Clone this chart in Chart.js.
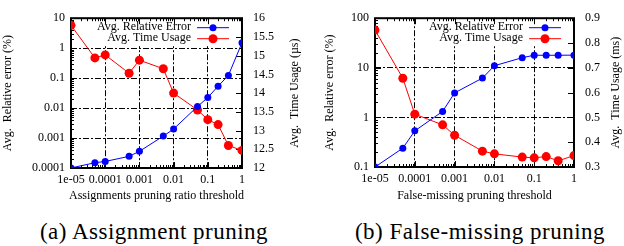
<!DOCTYPE html>
<html>
<head>
<meta charset="utf-8">
<script src="https://cdn.jsdelivr.net/npm/chart.js@4.4.1/dist/chart.umd.min.js"></script>
<style>
  body { margin: 0; background: #fff; width: 624px; height: 246px; position: relative; overflow: hidden; font-family: "Liberation Serif", "DejaVu Serif", serif; }
  canvas { position: absolute; top: 0; }
  .cap { position: absolute; top: 221px; font-size: 23px; line-height: 22px; letter-spacing: 0.5px; white-space: nowrap; text-align: center; width: 300px; }
</style>
</head>
<body>
<canvas id="chartA" width="312" height="205" style="left:0"></canvas>
<canvas id="chartB" width="312" height="205" style="left:312px"></canvas>
<div class="cap" style="left:4px">(a) Assignment pruning</div>
<div class="cap" style="left:330px">(b) False-missing pruning</div>
<script>
// thresholds on the x axis (same for both panels)
const thresholds = [1e-5, 5e-5, 1e-4, 5e-4, 1e-3, 5e-3, 1e-2, 5e-2, 0.1, 0.2, 0.4, 1];
const xTickValues = [1e-5, 1e-4, 1e-3, 1e-2, 0.1, 1];
const xTickLabels = ['1e-05', '0.0001', '0.001', '0.01', '0.1', '1'];

// (a) assignment pruning
const errorA = [0.0001, 0.00015, 0.000165, 0.000245, 0.00036, 0.00116, 0.002, 0.0113, 0.0225, 0.054, 0.123, 1.52];
const timeA = [15.81, 14.94, 15.02, 14.53, 14.88, 14.65, 14.0, 13.55, 13.29, 13.16, 12.6, 12.47];
const errTicksA = [0.0001, 0.001, 0.01, 0.1, 1, 10];
const errLabelsA = ['0.0001', '0.001', '0.01', '0.1', '1', '10'];
const timeTicksA = [12, 12.5, 13, 13.5, 14, 14.5, 15, 15.5, 16];

// (b) false-missing pruning
const errorB = [0.1, 0.24, 0.535, 1.32, 3.12, 6.2, 11, 16, 17.9, 17.9, 17.9, 18];
const timeB = [0.852, 0.658, 0.513, 0.47, 0.428, 0.364, 0.353, 0.34, 0.337, 0.342, 0.325, 0.346];
const errTicksB = [0.1, 1, 10, 100];
const errLabelsB = ['0.1', '1', '10', '100'];
const timeTicksB = [0.3, 0.4, 0.5, 0.6, 0.7, 0.8, 0.9];

const FONT = '"Liberation Serif", "DejaVu Serif", serif';
const BLUE = '#0000ff';
const RED = '#ff0000';

function logTicks(min, max) {
  const ticks = [];
  for (let e = Math.round(Math.log10(min)); e <= Math.round(Math.log10(max)); e++) {
    for (let m = 1; m < 10; m++) {
      const v = m * Math.pow(10, e);
      if (v > max * 1.0001) break;
      ticks.push({ value: v, major: m === 1 });
    }
  }
  return ticks;
}

function labelFor(values, labels, v) {
  const i = values.findIndex(t => Math.abs(Math.log10(t) - Math.log10(v)) < 1e-6);
  return i < 0 ? '' : labels[i];
}

// gnuplot-ish frame, inside ticks, key and axis titles
const gnuplotLook = {
  id: 'gnuplotLook',
  beforeDatasetsDraw(chart, args, opts) {
    const { ctx, chartArea: a } = chart;
    ctx.save();
    // opaque key box
    ctx.font = '12px ' + FONT;
    const w = Math.max(...opts.keys.map(k => ctx.measureText(k.label).width));
    ctx.fillStyle = '#fff';
    ctx.fillRect(a.right - 51 - w - 4, a.top + 1, w + 54, 27);
    // inside ticks
    ctx.strokeStyle = '#000';
    ctx.lineWidth = 1;
    ctx.beginPath();
    chart.scales.x.ticks.forEach(t => {
      const px = Math.round(chart.scales.x.getPixelForValue(t.value)) + 0.5;
      const len = t.major ? 6 : 3;
      ctx.moveTo(px, a.bottom); ctx.lineTo(px, a.bottom - len);
      ctx.moveTo(px, a.top); ctx.lineTo(px, a.top + len);
    });
    chart.scales.y.ticks.forEach(t => {
      const py = Math.round(chart.scales.y.getPixelForValue(t.value)) + 0.5;
      const len = t.major ? 6 : 3;
      ctx.moveTo(a.left, py); ctx.lineTo(a.left + len, py);
    });
    chart.scales.y2.ticks.forEach(t => {
      const py = Math.round(chart.scales.y2.getPixelForValue(t.value)) + 0.5;
      ctx.moveTo(a.right, py); ctx.lineTo(a.right - 6, py);
    });
    ctx.stroke();
    // frame
    ctx.lineWidth = 2;
    ctx.strokeRect(a.left, a.top, a.right - a.left, a.bottom - a.top);
    ctx.restore();
  },
  afterDatasetsDraw(chart, args, opts) {
    const { ctx, chartArea: a } = chart;
    ctx.save();
    ctx.font = '12px ' + FONT;
    ctx.fillStyle = '#000';
    ctx.textBaseline = 'middle';
    opts.keys.forEach((k, i) => {
      const y = a.top + 9 + i * 11;
      ctx.textAlign = 'right';
      ctx.fillText(k.label, a.right - 51, y);
      ctx.strokeStyle = k.color;
      ctx.lineWidth = 1;
      ctx.beginPath();
      ctx.moveTo(a.right - 45, y + 0.5);
      ctx.lineTo(a.right - 13, y + 0.5);
      ctx.stroke();
      ctx.fillStyle = k.color;
      ctx.beginPath();
      ctx.arc(a.right - 29, y + 0.5, k.r, 0, Math.PI * 2);
      ctx.fill();
      ctx.fillStyle = '#000';
    });
    // axis titles
    const cy = (a.top + a.bottom) / 2;
    ctx.textAlign = 'center';
    [[opts.leftX, opts.leftTitle], [opts.rightX, opts.rightTitle]].forEach(([x, txt]) => {
      ctx.save();
      ctx.translate(x, cy);
      ctx.rotate(-Math.PI / 2);
      ctx.fillText(txt, 0, 0);
      ctx.restore();
    });
    ctx.fillText(opts.xTitle, (a.left + a.right) / 2, 196);
    ctx.restore();
  }
};

function makeChart(id, err, time, errMin, errMax, errTicks, errLabels, timeTicks, timeFmt, dims, titles) {
  const ctx = document.getElementById(id).getContext('2d');
  return new Chart(ctx, {
    type: 'line',
    data: {
      datasets: [{
        label: 'Avg. Relative Error',
        data: thresholds.map((t, i) => ({ x: t, y: err[i] })),
        yAxisID: 'y',
        borderColor: BLUE,
        backgroundColor: BLUE,
        borderWidth: 1,
        pointRadius: 3.5,
        pointBorderWidth: 0,
        tension: 0
      }, {
        label: 'Avg. Time Usage',
        data: thresholds.map((t, i) => ({ x: t, y: time[i] })),
        yAxisID: 'y2',
        borderColor: RED,
        backgroundColor: RED,
        borderWidth: 1,
        pointRadius: 4.5,
        pointBorderWidth: 0,
        tension: 0
      }]
    },
    options: {
      responsive: false,
      animation: false,
      layout: { padding: { top: 5, left: 0, right: 0, bottom: 0 } },
      plugins: {
        legend: { display: false },
        tooltip: { enabled: false },
        gnuplotLook: {
          keys: [{ label: 'Avg. Relative Error', color: BLUE, r: 3.5 }, { label: 'Avg. Time Usage', color: RED, r: 4.5 }],
          leftX: dims.leftTitleX, rightX: dims.rightTitleX,
          leftTitle: titles.left, rightTitle: titles.right, xTitle: titles.x
        }
      },
      scales: {
        x: {
          type: 'logarithmic',
          min: 1e-5, max: 1,
          afterBuildTicks: s => { s.ticks = logTicks(1e-5, 1); },
          afterFit: s => { s.height = dims.xHeight; },
          grid: {
            drawTicks: false,
            color: c => (c.tick && c.tick.major) ? '#000' : 'rgba(0,0,0,0)',
            lineWidth: 1
          },
          border: { display: false, dash: [6, 2, 2, 2] },
          ticks: {
            autoSkip: false, maxRotation: 0, minRotation: 0, padding: 5,
            color: '#000', font: { family: FONT, size: 12 },
            callback: (v, i, ticks) => ticks[i].major ? labelFor(xTickValues, xTickLabels, v) : ''
          }
        },
        y: {
          type: 'logarithmic',
          position: 'left',
          min: errMin, max: errMax,
          afterBuildTicks: s => { s.ticks = logTicks(errMin, errMax); },
          afterFit: s => { s.width = dims.yWidth; },
          grid: {
            drawTicks: false,
            color: c => (c.tick && c.tick.major) ? '#000' : 'rgba(0,0,0,0)',
            lineWidth: 1
          },
          border: { display: false, dash: [6, 2, 2, 2] },
          ticks: {
            autoSkip: false, padding: 6,
            color: '#000', font: { family: FONT, size: 12 },
            callback: (v, i, ticks) => ticks[i].major ? labelFor(errTicks, errLabels, v) : ''
          }
        },
        y2: {
          type: 'linear',
          position: 'right',
          min: timeTicks[0], max: timeTicks[timeTicks.length - 1],
          afterBuildTicks: s => { s.ticks = timeTicks.map(v => ({ value: v })); },
          afterFit: s => { s.width = dims.y2Width; },
          grid: { drawOnChartArea: false, drawTicks: false },
          border: { display: false },
          ticks: {
            autoSkip: false, padding: 11,
            color: '#000', font: { family: FONT, size: 12 },
            callback: timeFmt
          }
        }
      }
    },
    plugins: [gnuplotLook]
  });
}

makeChart('chartA', errorA, timeA, 0.0001, 10, errTicksA, errLabelsA, timeTicksA,
  v => (Number.isInteger(v) ? String(v) : v.toFixed(1)),
  { yWidth: 71, y2Width: 70, xHeight: 37, leftTitleX: 8, rightTitleX: 295 },
  { left: 'Avg.  Relative error (%)', right: 'Avg.  Time Usage (\u00b5s)', x: 'Assignments pruning ratio threshold' });

makeChart('chartB', errorB, timeB, 0.1, 100, errTicksB, errLabelsB, timeTicksB,
  v => v.toFixed(1),
  { yWidth: 63, y2Width: 50, xHeight: 38, leftTitleX: 18, rightTitleX: 304 },
  { left: 'Avg.  Relative error (%)', right: 'Avg.  Time Usage (ms)', x: 'False-missing pruning threshold' });
</script>
</body>
</html>
